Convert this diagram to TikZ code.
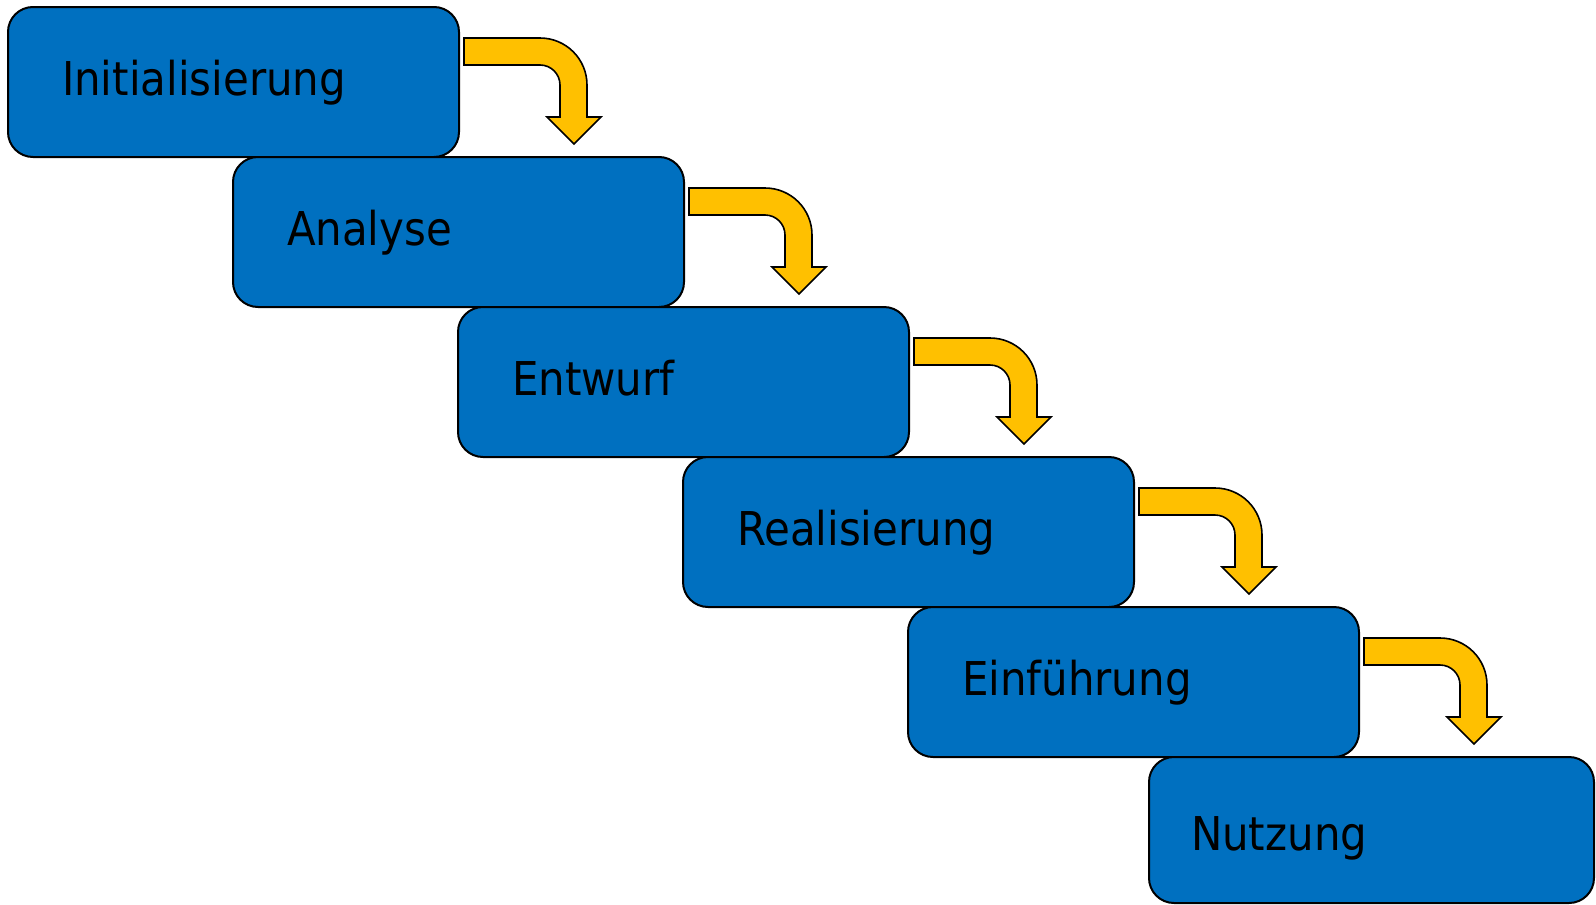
\documentclass[tikz,border=0pt]{standalone}
\usepackage{fontspec}
\setmainfont{DejaVu Sans}[FakeStretch=0.9]
\definecolor{stageblue}{HTML}{0070C0}
\definecolor{arrowgold}{HTML}{FFC000}
\tikzset{
	stage/.style={draw=black,line width=2pt,fill=stageblue,rounded corners=25pt,anchor=north west,outer sep=0pt,
		minimum height=150pt,inner ysep=0pt,align=left,text height=26pt,text depth=0pt,
		font=\fontsize{46.6}{52}\selectfont},
	turnarrow/.style={draw=black,line width=1.6pt,fill=arrowgold,line join=miter}
}
\begin{document}
\begin{tikzpicture}[x=1pt,y=1pt]
		\useasboundingbox (0,0)rectangle(1596,-905);
		\foreach \name [count=\i from 0] in{Initialisierung,Analyse,Entwurf,Realisierung,Einführung}{
			\node (p\i) at({8+225*\i},{-7-150*\i})[stage,inner xsep=54pt,text width=343pt]{\name};
		}
		\node (p5) at(1149,-757)[stage,inner xsep=42pt,text width=361pt,minimum height=146pt,text height=41pt]{Nutzung};
		\foreach \i in{0,...,4}{
			\begin{scope}[shift={(p\i.north east)}]
				\draw[turnarrow] (5,-31)--(81,-31)arc[start angle=90,end angle=0,radius=47]
					--(128,-110)--(142,-110)--(115,-137)--(88,-110)--(101,-110)--(101,-78)
					arc[start angle=0,end angle=90,radius=20]--(5,-58)--cycle;
			\end{scope}
		}
	\end{tikzpicture}
\end{document}
